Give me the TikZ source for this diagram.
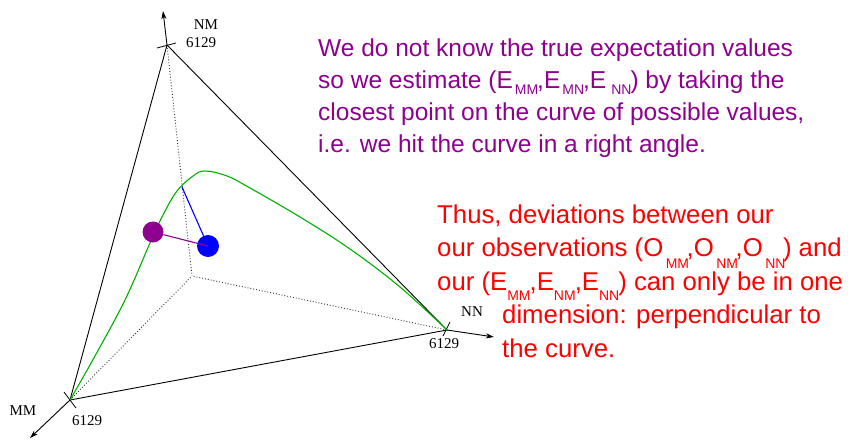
\documentclass[tikz,border=0pt]{standalone}
\usepackage{fontspec}
\setmainfont{Liberation Sans}
\newfontfamily\axisfont{Liberation Serif}
\usetikzlibrary{arrows.meta}
\definecolor{fgpurple}{RGB}{143,0,143}
\definecolor{fggreen}{RGB}{0,176,0}
\definecolor{fgblue}{RGB}{0,0,255}
\definecolor{fgred}{RGB}{255,0,0}
\newcommand\lsub[2]{\raisebox{-#1pt}{\fontsize{14}{14}\selectfont #2}}
\tikzset{
  edge/.style={line width=0.9pt, black},
  axisarrow/.style={line width=0.9pt, -{Stealth[length=8pt,width=5pt,inset=2pt]}},
  tick/.style={line width=0.8pt},
  guide/.style={dotted, line width=0.9pt, black!80},
  axislabel/.style={font=\axisfont\fontsize{15}{15}\selectfont, inner sep=0pt},
  ptext/.style={font=\fontsize{24.5}{30}\selectfont, text=fgpurple, anchor=base west, inner sep=0pt},
  rtext/.style={font=\fontsize{25.75}{30}\selectfont, text=fgred, anchor=base west, inner sep=0pt},
}
\begin{document}
\begin{tikzpicture}[x=1pt,y=-1pt]
\useasboundingbox (0,0) rectangle (848,439);
% vertices
\coordinate (MM) at (70,400);
\coordinate (NM) at (167,45);
\coordinate (NN) at (447,330);
\coordinate (O) at (192,276);
\coordinate (MMtip) at (30,438);
\coordinate (NMtip) at (163,11);
\coordinate (NNtip) at (494,337);
\coordinate (F) at (182,187);
% dotted axes inside
\draw[guide] (NM) -- (O);
\draw[guide] (MM) -- (O);
\draw[guide] (NN) -- (O);
% triangle
\draw[edge] (MM) -- (NM) -- (NN) -- cycle;
% axis arrows
\draw[axisarrow] (MM) -- (MMtip);
\draw[axisarrow] (NM) -- (NMtip);
\draw[axisarrow] (NN) -- (NNtip);
% ticks
\coordinate (t1a) at (157,48); \coordinate (t1b) at (176,43);
\coordinate (t2a) at (64,392); \coordinate (t2b) at (76,408);
\coordinate (t3a) at (443,336); \coordinate (t3b) at (450,322);
\draw[tick] (t1a) -- (t1b);
\draw[tick] (t2a) -- (t2b);
\draw[tick] (t3a) -- (t3b);
% labels
\node[axislabel] (lNM) at (206,25) {NM};
\node[axislabel] (vNM) at (201,43) {6129};
\node[axislabel] (lMM) at (23,411) {MM};
\node[axislabel] (vMM) at (87,421) {6129};
\node[axislabel] (lNN) at (472,312) {NN};
\node[axislabel] (vNN) at (444,344) {6129};
% curve
\draw[fggreen, line width=1.1pt] plot[smooth, tension=0.6] coordinates {(70,400) (95,356) (125,300) (150,243) (163,215) (177,191) (193,176) (205,171) (227,176) (250,188) (300,217) (350,249) (400,287) (447,330)};
% points
\node[circle, fill=fgblue, inner sep=0pt, minimum size=22pt] (Obs) at (208,246) {};
\node[circle, fill=fgpurple, inner sep=0pt, minimum size=21pt] (Est) at (153,232) {};
\draw[fgblue, line width=1.1pt] (F) -- (Obs);
\draw[fgpurple, line width=1.1pt] (Est) -- (Obs.center);
% purple text
\node[ptext] (p1) at (318,56) {We do not know the true expectation values};
\node[ptext] (p2) at (318,88) {so we estimate (E\hspace{2pt}\lsub{6}{MM}\kern-1pt,E\hspace{2pt}\lsub{6}{MN}\kern-1pt,E\hspace{5pt}\lsub{6}{NN}\kern-1pt) by taking the};
\node[ptext] (p3) at (318,120) {closest point on the curve of possible values,};
\node[ptext] (p4) at (318,152) {i.e. we hit the curve in a right angle.};
% red text
\node[rtext] (r1) at (437,223) {Thus, deviations between our};
\node[rtext] (r2) at (437,256) {our observations (O\hspace{2.5pt}\lsub{12}{MM}\kern-2.5pt,O\hspace{2.5pt}\lsub{12}{NM}\kern-2.5pt,O\hspace{2.5pt}\lsub{12}{NN}\kern-2.5pt) and};
\node[rtext] (r3) at (437,290) {our (E\lsub{10}{MM}\kern-1pt,E\lsub{10}{NM}\kern-1pt,E\lsub{10}{NN}\kern-1pt) can only be in one};
\node[rtext] (r4) at (502,323) {dimension: perpendicular to};
\node[rtext] (r5) at (502,357) {the curve.};
\end{tikzpicture}
\end{document}
